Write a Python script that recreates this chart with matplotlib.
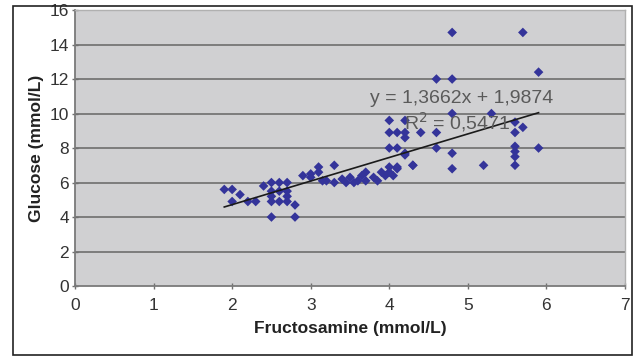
import matplotlib
matplotlib.use("Agg")
import matplotlib.pyplot as plt
from matplotlib.patches import Rectangle

# fructosamine vs glucose, both in mmol/L
fructosamine = [1.9, 2.0, 2.1, 2.0, 2.2, 2.3, 2.4, 2.5, 2.6, 2.7,
                2.5, 2.6, 2.7, 2.5, 2.6, 2.7, 2.8, 2.5, 2.8, 2.5,
                2.7, 2.9, 3.0, 3.1, 3.15, 3.0, 3.1, 3.3, 3.2, 3.4,
                3.5, 3.6, 3.7, 3.9, 4.0, 4.1, 4.3, 3.7, 3.8, 3.45,
                3.55, 3.85, 3.95, 4.05, 3.65, 4.0, 4.1, 4.2, 4.0, 4.2,
                4.0, 4.1, 4.2, 4.4, 4.6, 4.2, 4.6, 4.8, 4.3, 4.8,
                4.0, 4.1, 4.2, 4.8, 5.7, 4.6, 4.8, 5.9, 4.8, 5.3,
                5.6, 5.7, 5.6, 5.6, 5.6, 5.6, 5.9, 5.6, 5.2, 3.3]
glucose = [5.6, 5.6, 5.3, 4.9, 4.9, 4.9, 5.8, 6.0, 6.0, 6.0,
           5.5, 5.5, 5.5, 4.9, 4.9, 4.9, 4.7, 4.0, 4.0, 5.2,
           5.2, 6.4, 6.5, 6.9, 6.1, 6.3, 6.6, 7.0, 6.1, 6.2,
           6.3, 6.1, 6.6, 6.6, 6.6, 6.8, 7.0, 6.1, 6.3, 6.0,
           6.0, 6.1, 6.4, 6.4, 6.4, 8.0, 8.0, 7.7, 9.6, 9.6,
           8.9, 8.9, 8.9, 8.9, 8.9, 7.6, 8.0, 7.7, 7.0, 6.8,
           6.9, 6.9, 8.6, 14.7, 14.7, 12.0, 12.0, 12.4, 10.0, 10.0,
           9.5, 9.2, 8.9, 8.1, 7.8, 7.5, 8.0, 7.0, 7.0, 6.0]

# linear trendline
slope = 1.3662
intercept = 1.9874
r_squared = 0.5471

x_ticks = [0, 1, 2, 3, 4, 5, 6, 7]
y_ticks = [0, 2, 4, 6, 8, 10, 12, 14, 16]

plt.rcParams["font.family"] = ["Liberation Sans", "DejaVu Sans"]

fig = plt.figure(figsize=(6.34, 3.58), dpi=100)
fig.patch.set_facecolor("white")
ax = fig.add_axes([0.1183, 0.201, 0.8675, 0.771])
ax.set_facecolor("#d0d0d2")

for y in y_ticks[1:-1]:
    ax.axhline(y, color="#7c7c7c", linewidth=1.4, zorder=1)

ax.scatter(fructosamine, glucose, marker="D", s=24, color="#34349a",
           edgecolors="none", zorder=3)

x_line = [min(fructosamine), max(fructosamine)]
y_line = [slope * x + intercept for x in x_line]
ax.plot(x_line, y_line, color="#1a1a1a", linewidth=1.2, zorder=4)

eq = "y = {:.4f}x + {:.4f}".format(slope, intercept).replace(".", ",")
r2 = "R$^2$ = {:.4f}".format(r_squared).replace(".", ",")
ax.text(4.92, 10.85, eq, fontsize=14, color="#5a5a5a", ha="center",
        va="center", zorder=5)
ax.text(4.86, 9.5, r2, fontsize=14, color="#5a5a5a", ha="center",
        va="center", zorder=5)

ax.set_xlim(0, 7)
ax.set_ylim(0, 16)
ax.set_xticks(x_ticks)
ax.set_yticks(y_ticks)
ax.tick_params(axis="both", direction="inout", length=5, width=1,
               color="#707070", labelsize=12.5, labelcolor="#333333")
ax.tick_params(axis="x", pad=6)
ax.tick_params(axis="y", pad=2)

for side in ["left", "bottom"]:
    ax.spines[side].set_color("#7a7a7a")
    ax.spines[side].set_linewidth(1.3)
for side in ["right", "top"]:
    ax.spines[side].set_color("#b0b0b0")
    ax.spines[side].set_linewidth(1.0)

ax.set_xlabel("Fructosamine (mmol/L)", fontsize=12.5, fontweight="bold",
              color="#222222", labelpad=6)
ax.set_ylabel("Glucose (mmol/L)", fontsize=12.5, fontweight="bold",
              color="#222222", labelpad=4)

# outer frame around the whole chart
fig.patches.append(Rectangle((13 / 634, 3 / 358), 619 / 634, 349 / 358,
                             transform=fig.transFigure, fill=False,
                             edgecolor="#222222", linewidth=1.2))

fig.savefig("out.png", dpi=100)
